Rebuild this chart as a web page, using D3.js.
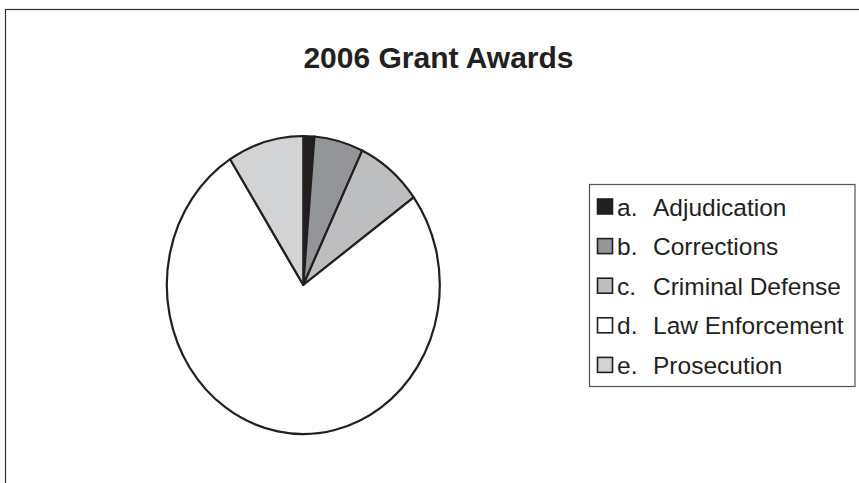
<!DOCTYPE html>
<html>
<head>
<meta charset="utf-8">
<script src="https://cdn.jsdelivr.net/npm/d3@7"></script>
<style>
  body { margin: 0; background: #fff; }
  svg { display: block; font-family: Arial, "Liberation Sans", sans-serif; }
</style>
</head>
<body>
<svg id="chart" width="859" height="483"></svg>
<script>
// data (percent of total)
var letters = ["a.", "b.", "c.", "d.", "e."];
var categories = ["Adjudication", "Corrections", "Criminal Defense", "Law Enforcement", "Prosecution"];
var values = [1.3, 5.8, 7.9, 76.0, 9.0];
var colors = ["#231f20", "#939598", "#bcbec0", "#ffffff", "#d1d3d4"];

var svg = d3.select("#chart");

// outer frame, runs off the right and bottom edge
svg.append("rect")
  .attr("x", 5.5).attr("y", 9.5)
  .attr("width", 900).attr("height", 600)
  .attr("fill", "none")
  .attr("stroke", "#333")
  .attr("stroke-width", 1.2);

svg.append("text")
  .attr("x", 438.5).attr("y", 67.5)
  .attr("text-anchor", "middle")
  .attr("font-size", "30px")
  .attr("font-weight", "bold")
  .attr("fill", "#231f20")
  .text("2006 Grant Awards");

// pie is a bit taller than wide in the original
var cx = 303.3, cy = 285, rx = 136.5, ry = 149;

var pie = d3.pie().sort(null).value(function(d) { return d; });
var arc = d3.arc().innerRadius(0).outerRadius(rx);

var g = svg.append("g")
  .attr("transform", "translate(" + cx + "," + cy + ") scale(1," + (ry / rx) + ")");

g.selectAll("path")
  .data(pie(values))
  .enter()
  .append("path")
  .attr("d", arc)
  .attr("fill", function(d, i) { return colors[i]; })
  .attr("stroke", "#231f20")
  .attr("stroke-width", 2.2)
  .attr("stroke-linejoin", "round")
  .attr("vector-effect", "non-scaling-stroke");

// legend
var lx = 589.5, ly = 184.5;
svg.append("rect")
  .attr("x", lx).attr("y", ly)
  .attr("width", 265.5).attr("height", 202)
  .attr("fill", "#fff")
  .attr("stroke", "#555")
  .attr("stroke-width", 1.2);

var item = svg.selectAll(".item")
  .data(categories)
  .enter()
  .append("g")
  .attr("class", "item")
  .attr("transform", function(d, i) { return "translate(0," + (207 + i * 39.6) + ")"; });

item.append("rect")
  .attr("x", 597.5).attr("y", -8)
  .attr("width", 15).attr("height", 15)
  .attr("fill", function(d, i) { return colors[i]; })
  .attr("stroke", "#231f20")
  .attr("stroke-width", 1.6);

item.append("text")
  .attr("x", 617)
  .attr("y", 8.5)
  .attr("font-size", "24.5px")
  .attr("fill", "#231f20")
  .text(function(d, i) { return letters[i]; });

item.append("text")
  .attr("x", 653)
  .attr("y", 8.5)
  .attr("font-size", "24.5px")
  .attr("fill", "#231f20")
  .text(function(d) { return d; });
</script>
</body>
</html>
